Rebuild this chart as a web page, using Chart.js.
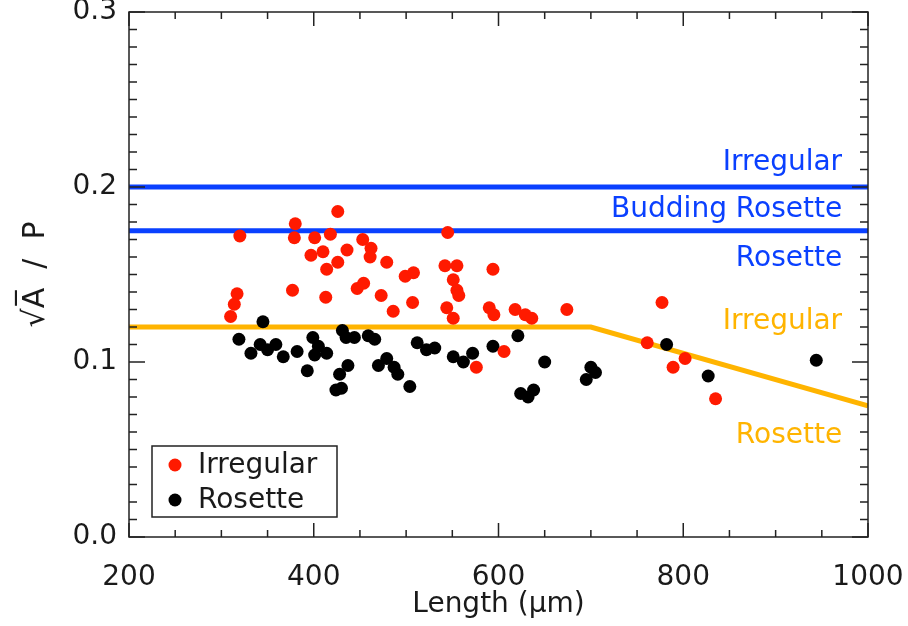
<!DOCTYPE html>
<html>
<head>
<meta charset="utf-8">
<script src="https://cdn.jsdelivr.net/npm/chart.js@4.4.0/dist/chart.umd.min.js"></script>
<style>
  html, body { margin: 0; padding: 0; background: #fff; }
</style>
</head>
<body>
<canvas id="grafico" width="908" height="626"></canvas>
<script>
// values
const xTicks = [200, 400, 600, 800, 1000];
const yTicks = [0.0, 0.1, 0.2, 0.3];

const irregularLength = [380, 426, 379, 401, 418, 397, 410, 453, 462, 461,
  436, 426, 414, 479, 499, 508, 447, 454, 377, 413,
  473, 486, 507, 545, 542, 555, 551, 555, 557, 544,
  551, 594, 590, 595, 618, 629, 636, 674, 606, 576,
  777, 761, 802, 789, 835, 320, 317, 314, 310];
const irregularRatio = [0.179, 0.186, 0.171, 0.171, 0.173, 0.161, 0.163, 0.170, 0.165, 0.160,
  0.164, 0.157, 0.153, 0.157, 0.149, 0.151, 0.142, 0.145, 0.141, 0.137,
  0.138, 0.129, 0.134, 0.174, 0.155, 0.155, 0.147, 0.141, 0.138, 0.131,
  0.125, 0.153, 0.131, 0.127, 0.130, 0.127, 0.125, 0.130, 0.106, 0.097,
  0.134, 0.111, 0.102, 0.097, 0.079, 0.172, 0.139, 0.133, 0.126];

const rosetteLength = [319, 332, 345, 342, 350, 359, 367, 382, 393, 399,
  405, 414, 401, 431, 435, 444, 459, 466, 437, 428,
  424, 430, 470, 479, 487, 491, 504, 512, 522, 531,
  551, 562, 572, 594, 621, 650, 624, 632, 638, 700,
  705, 695, 782, 827, 944];
const rosetteRatio = [0.113, 0.105, 0.123, 0.110, 0.107, 0.110, 0.103, 0.106, 0.095, 0.114,
  0.109, 0.105, 0.104, 0.118, 0.114, 0.114, 0.115, 0.113, 0.098, 0.093,
  0.084, 0.085, 0.098, 0.102, 0.097, 0.093, 0.086, 0.111, 0.107, 0.108,
  0.103, 0.100, 0.105, 0.109, 0.115, 0.100, 0.082, 0.080, 0.084, 0.097,
  0.094, 0.090, 0.110, 0.092, 0.101];

// shape limits (blue) and size-dependent limit (orange)
const blueLimitX = [200, 1000];
const blueUpper = [0.2, 0.2];
const blueLower = [0.175, 0.175];
const orangeLimitX = [200, 700, 1000];
const orangeLimitY = [0.12, 0.12, 0.075];

const azul = '#0a40ff';
const naranja = '#ffb400';
const fuente = '"DejaVu Sans", sans-serif';

const regionLabels = [
  {text: 'Irregular', x: 972, y: 0.210, color: azul},
  {text: 'Budding Rosette', x: 972, y: 0.183, color: azul},
  {text: 'Rosette', x: 972, y: 0.155, color: azul},
  {text: 'Irregular', x: 972, y: 0.119, color: naranja},
  {text: 'Rosette', x: 972, y: 0.054, color: naranja}
];

function toPoints(xs, ys) {
  return xs.map((x, i) => ({x: x, y: ys[i]}));
}

// box with inward ticks on all four sides, like the original plot
const frameTicks = {
  id: 'frameTicks',
  afterDatasetsDraw(chart) {
    const {ctx, chartArea: a, scales: {x, y}} = chart;
    ctx.save();
    ctx.strokeStyle = '#222';
    ctx.lineWidth = 1.5;
    ctx.strokeRect(a.left, a.top, a.right - a.left, a.bottom - a.top);
    ctx.beginPath();
    for (let v = 200; v <= 1000; v += 50) {
      const px = x.getPixelForValue(v);
      const len = xTicks.includes(v) ? 14 : 7;
      ctx.moveTo(px, a.bottom); ctx.lineTo(px, a.bottom - len);
      ctx.moveTo(px, a.top); ctx.lineTo(px, a.top + len);
    }
    for (let k = 0; k <= 30; k++) {
      const py = y.getPixelForValue(k / 100);
      const len = k % 10 === 0 ? 16 : 8;
      ctx.moveTo(a.left, py); ctx.lineTo(a.left + len, py);
      ctx.moveTo(a.right, py); ctx.lineTo(a.right - len, py);
    }
    ctx.stroke();
    ctx.restore();
  }
};

const regionText = {
  id: 'regionText',
  afterDatasetsDraw(chart) {
    const {ctx, scales: {x, y}} = chart;
    ctx.save();
    ctx.font = '28px ' + fuente;
    ctx.textAlign = 'right';
    ctx.textBaseline = 'alphabetic';
    regionLabels.forEach(l => {
      ctx.fillStyle = l.color;
      ctx.fillText(l.text, x.getPixelForValue(l.x), y.getPixelForValue(l.y));
    });
    ctx.restore();
  }
};

const legendBox = {
  id: 'legendBox',
  afterDraw(chart) {
    const {ctx, chartArea: a} = chart;
    const items = chart.data.datasets.filter(d => d.inLegend);
    const left = a.left + 23, top = a.bottom - 91, w = 185, h = 71;
    ctx.save();
    ctx.fillStyle = '#fff';
    ctx.fillRect(left, top, w, h);
    ctx.strokeStyle = '#222';
    ctx.lineWidth = 1.5;
    ctx.strokeRect(left, top, w, h);
    ctx.font = '28px ' + fuente;
    ctx.textBaseline = 'middle';
    items.forEach((d, i) => {
      const cy = top + 19 + i * 35;
      ctx.fillStyle = d.backgroundColor;
      ctx.beginPath();
      ctx.arc(left + 23, cy, 6.5, 0, 2 * Math.PI);
      ctx.fill();
      ctx.fillStyle = '#1a1a1a';
      ctx.fillText(d.label, left + 46, cy + 1);
    });
    ctx.restore();
  }
};

const ctx = document.getElementById('grafico').getContext('2d');
new Chart(ctx, {
  type: 'scatter',
  data: {
    datasets: [
      {label: 'Irregular', inLegend: true, data: toPoints(irregularLength, irregularRatio),
        backgroundColor: '#ff1a00', pointRadius: 6.5, borderWidth: 0},
      {label: 'Rosette', inLegend: true, data: toPoints(rosetteLength, rosetteRatio),
        backgroundColor: '#000000', pointRadius: 6.5, borderWidth: 0},
      {label: 'upper', data: toPoints(blueLimitX, blueUpper), showLine: true,
        borderColor: azul, borderWidth: 5, pointRadius: 0},
      {label: 'lower', data: toPoints(blueLimitX, blueLower), showLine: true,
        borderColor: azul, borderWidth: 5, pointRadius: 0},
      {label: 'size', data: toPoints(orangeLimitX, orangeLimitY), showLine: true,
        borderColor: naranja, borderWidth: 5, pointRadius: 0}
    ]
  },
  options: {
    responsive: false,
    animation: false,
    devicePixelRatio: 1,
    layout: {padding: {top: 12, right: 40, bottom: 0, left: 0}},
    plugins: {legend: {display: false}, tooltip: {enabled: false}},
    scales: {
      x: {
        type: 'linear', min: 200, max: 1000,
        grid: {display: false, drawTicks: false},
        border: {display: false},
        afterBuildTicks: s => { s.ticks = xTicks.map(v => ({value: v})); },
        afterFit: s => { s.height = 89; s.paddingLeft = 0; s.paddingRight = 0; },
        ticks: {font: {family: fuente, size: 28}, color: '#1a1a1a', padding: 24, maxRotation: 0, autoSkip: false,
          callback: v => String(v)},
        title: {display: true, text: 'Length (μm)', font: {family: fuente, size: 28}, color: '#1a1a1a',
          padding: {top: 0, bottom: 4}}
      },
      y: {
        type: 'linear', min: 0, max: 0.3,
        grid: {display: false, drawTicks: false},
        border: {display: false},
        afterBuildTicks: s => { s.ticks = yTicks.map(v => ({value: v})); },
        afterFit: s => { s.width = 129; s.paddingTop = 0; s.paddingBottom = 0; },
        ticks: {font: {family: fuente, size: 28}, color: '#1a1a1a', padding: 12,
          callback: v => Number(v).toFixed(1)},
        title: {display: true, text: '√A̅  /  P', font: {family: fuente, size: 30}, color: '#1a1a1a',
          padding: {top: 18, bottom: 0}}
      }
    }
  },
  plugins: [frameTicks, regionText, legendBox]
});
</script>
</body>
</html>
